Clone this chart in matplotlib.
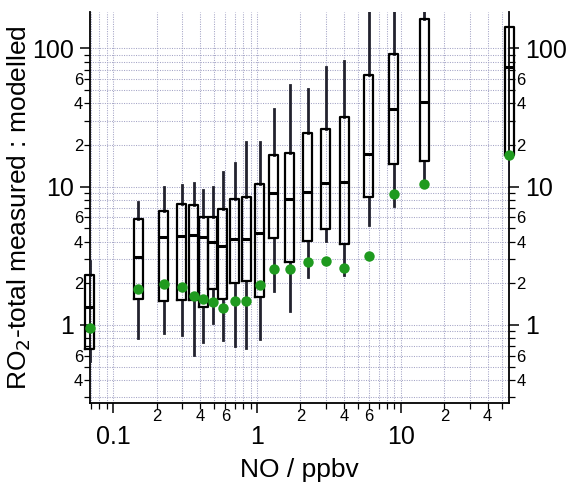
import matplotlib
matplotlib.use('Agg')
import matplotlib.pyplot as plt
from matplotlib.ticker import FixedLocator, FuncFormatter
import numpy as np

plt.rcParams['font.family'] = ['Liberation Sans', 'DejaVu Sans']

# NO bin centres (ppbv)
no_ppbv = [0.069, 0.149, 0.225, 0.298, 0.363, 0.422, 0.492, 0.577, 0.696, 0.839,
           1.04, 1.30, 1.68, 2.24, 3.01, 4.04, 5.96, 8.88, 14.5, 56.5]
# measured : modelled ratio statistics
whisker_low = [0.55, 0.80, 0.87, 0.85, 0.61, 0.75, 1.04, 0.78, 0.705, 0.68,
               0.79, 1.76, 1.27, 2.21, 4.07, 2.30, 5.28, 7.29, 11.2, 10.3]
q1 = [0.67, 1.54, 1.50, 1.52, 1.52, 1.34, 1.83, 1.53, 2.02, 2.08,
      1.59, 4.24, 2.87, 4.05, 4.94, 3.83, 8.47, 14.6, 15.4, 17.0]
median = [1.34, 3.10, 4.33, 4.40, 4.48, 4.31, 3.96, 3.71, 4.21, 4.21,
          4.60, 9.05, 8.1, 9.2, 10.6, 10.8, 17.2, 36.6, 41.2, 73.0]
q3 = [2.28, 5.84, 6.67, 7.50, 7.34, 6.01, 6.07, 6.93, 8.15, 8.38,
      10.5, 17.0, 17.6, 24.3, 26.0, 31.8, 64.2, 90.6, 162.0, 142.0]
whisker_high = [2.9, 7.7, 9.9, 10.3, 10.6, 9.46, 9.9, 12.8, 14.9, 20.9,
                20.9, 36.5, 54.4, 50.9, 73.8, 81.1, 250.0, 300.0, 300.0, 300.0]
# modelled-only comparison (green points)
model_ratio = [0.946, 1.81, 1.97, 1.87, 1.63, 1.55, 1.46, 1.33, 1.50, 1.50,
               1.95, 2.55, 2.55, 2.87, 2.90, 2.57, 3.17, 8.85, 10.5, 17.0]

xlim = (0.0689, 56.5)
ylim = (0.274, 184)

fig = plt.figure(figsize=(5.7, 4.86), dpi=100)
ax = fig.add_axes([0.1579, 0.1714, 0.7356, 0.8046])
ax.set_xscale('log')
ax.set_yscale('log')
ax.set_xlim(*xlim)
ax.set_ylim(*ylim)

# grid
grid_kw = dict(color='#a4a4c6', linestyle=(0, (1.0, 1.3)), linewidth=0.75)
ax.grid(True, which='both', axis='both', **grid_kw)
ax.set_axisbelow(True)

half = 10 ** 0.031
stats = []
for i in range(len(no_ppbv)):
    stats.append(dict(med=median[i], q1=q1[i], q3=q3[i],
                      whislo=whisker_low[i], whishi=whisker_high[i], fliers=[]))
widths = [x * (half - 1 / half) for x in no_ppbv]
art = ax.bxp(stats, positions=no_ppbv, widths=widths, showcaps=False,
             showfliers=False, manage_ticks=False,
             boxprops=dict(color='black', linewidth=1.6),
             medianprops=dict(color='black', linewidth=2.2),
             whiskerprops=dict(color='#22222e', linewidth=2.0))
for b in art['boxes'] + art['medians']:
    b.set_clip_on(False)
    b.set_zorder(4)
for w in art['whiskers']:
    w.set_zorder(3)

ax.plot(no_ppbv, model_ratio, 'o', color='#1f9a1f', markersize=7.5,
        markeredgewidth=0, zorder=5, clip_on=False)

# spines
for s in ['left', 'right', 'bottom']:
    ax.spines[s].set_linewidth(1.3)
ax.spines['top'].set_visible(False)

# ticks
def minor_fmt(v, pos):
    d = int(round(v / 10 ** np.floor(np.log10(v) + 1e-9)))
    return str(d) if d in (2, 4, 6) else ''

def major_fmt(v, pos):
    return '%g' % v

x_major = [0.1, 1, 10]
x_minor = [m * 10.0 ** e for e in (-2, -1, 0, 1) for m in range(2, 10)]
x_minor = [v for v in x_minor if xlim[0] <= v <= xlim[1]]
y_major = [1, 10, 100]
y_minor = [m * 10.0 ** e for e in (-1, 0, 1, 2) for m in range(2, 10)]
y_minor = [v for v in y_minor if ylim[0] <= v <= ylim[1]]

ax.xaxis.set_major_locator(FixedLocator(x_major))
ax.xaxis.set_minor_locator(FixedLocator(x_minor))
ax.yaxis.set_major_locator(FixedLocator(y_major))
ax.yaxis.set_minor_locator(FixedLocator(y_minor))
ax.xaxis.set_major_formatter(FuncFormatter(major_fmt))
ax.xaxis.set_minor_formatter(FuncFormatter(minor_fmt))
ax.yaxis.set_major_formatter(FuncFormatter(major_fmt))
ax.yaxis.set_minor_formatter(FuncFormatter(minor_fmt))

ax.tick_params(axis='both', which='major', direction='out', length=7.2, width=1.1,
               labelsize=18, color='black')
ax.tick_params(axis='both', which='minor', direction='out', length=4, width=0.9,
               labelsize=12, color='black')
ax.tick_params(axis='y', which='both', left=True, right=True,
               labelleft=True, labelright=True)
ax.tick_params(axis='x', which='major', pad=9)
ax.tick_params(axis='x', which='minor', pad=0.5)
ax.tick_params(axis='y', which='major', pad=4)
ax.tick_params(axis='y', which='minor', pad=1)

ax.set_xlabel('NO / ppbv', fontsize=19, labelpad=6)
ax.set_ylabel('RO$_2$-total measured : modelled', fontsize=19, labelpad=0)

fig.savefig('out.png', dpi=100)
